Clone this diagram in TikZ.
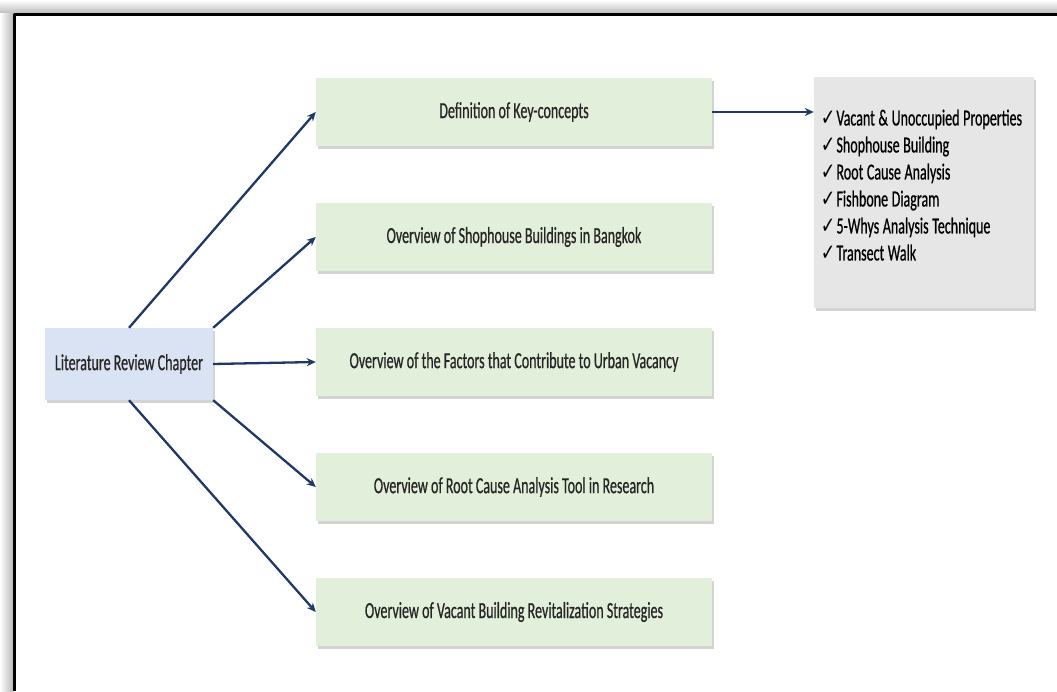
\documentclass[tikz,border=0pt]{standalone}
\usepackage{fontspec}
\setmainfont{Carlito}[FakeStretch=0.61, FakeBold=0.6]
\newfontfamily\tickfont{DejaVu Sans}[FakeStretch=0.75]
\usetikzlibrary{arrows.meta,shadows}
\definecolor{navy}{HTML}{203864}
\definecolor{boxgreen}{HTML}{E2EFDA}
\definecolor{boxblue}{HTML}{DAE3F3}
\definecolor{boxgray}{HTML}{E7E6E6}
\definecolor{textgray}{HTML}{262626}
\newcommand{\tick}{\makebox[15.5pt][l]{\tickfont\char"2713}}
\newcommand{\listfont}{\fontsize{23}{27}\selectfont\spaceskip=3.6pt\relax}
\begin{document}
\begin{tikzpicture}[x=1pt, y=1pt, line join=round,
    >={Stealth[length=9pt,width=8pt]},
    conn/.style={->, draw=navy, line width=2.3pt},
    shade box/.style={drop shadow={shadow xshift=2pt, shadow yshift=-3pt, opacity=0.35}},
    topic/.style={shade box, fill=boxgreen, minimum width=396pt, minimum height=68pt,
        text=textgray, font=\fontsize{23}{27}\selectfont},
    chapter/.style={shade box, fill=boxblue, minimum width=168pt, minimum height=72pt,
        text=textgray, font=\fontsize{23}{27}\selectfont},
    checklist/.style={shade box, fill=boxgray, minimum width=220pt, minimum height=231pt,
        align=left, font=\listfont}]
    \useasboundingbox (0,0) rectangle (1057,691);
    % frame with its shadow
    \shade[top color=white, bottom color=gray!55] (0,677) rectangle (1057,691);
    \shade[left color=white, right color=gray!55] (0,0) rectangle (13,677);
    \draw[line width=3pt] (14.5,0) -- (14.5,676.5) -- (1057,676.5);
    % boxes
    \node[chapter] (lit) at (129,327) {Literature Review Chapter};
    \node[topic] (def) at (514,579) {Definition of Key-concepts};
    \node[topic] (shop) at (514,454) {Overview of Shophouse Buildings in Bangkok};
    \node[topic] (fact) at (514,329) {Overview of the Factors that Contribute to Urban Vacancy};
    \node[topic] (rca) at (514,204) {Overview of Root Cause Analysis Tool in Research};
    \node[topic] (strat) at (514,79) {Overview of Vacant Building Revitalization Strategies};
    \node[checklist] (list) at (924,498.5) {\tick Vacant \& Unoccupied Properties\hspace*{5pt}\\
        \tick Shophouse Building\\
        \tick Root Cause Analysis\\
        \tick Fishbone Diagram\\
        \tick 5-Whys Analysis Technique\\
        \tick Transect Walk\rule[-15pt]{0pt}{1pt}};
    % arrows
    \draw[conn] (lit.north) -- (def.west);
    \draw[conn] (lit.north east) -- (shop.west);
    \draw[conn] (lit.east) -- (fact.west);
    \draw[conn] (lit.south east) -- (rca.west);
    \draw[conn] (lit.south) -- (strat.west);
    \draw[conn] (def.east) -- (def.east -| list.west);
\end{tikzpicture}
\end{document}
